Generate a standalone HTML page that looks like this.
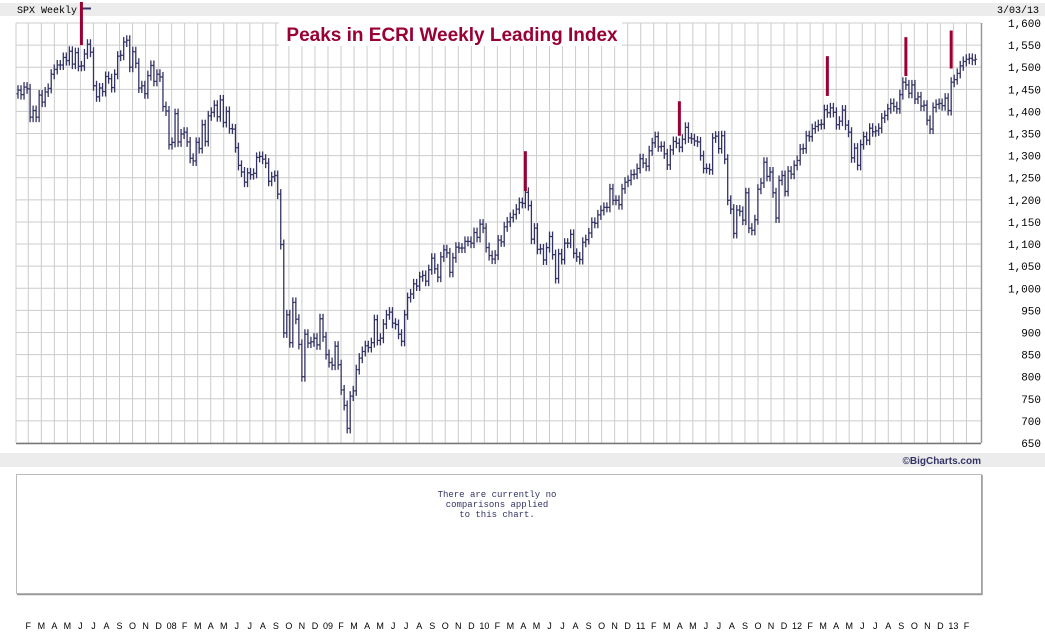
<!DOCTYPE html>
<html><head><meta charset="utf-8">
<style>
body{margin:0;background:#fff;width:1045px;height:635px;overflow:hidden;font-family:"Liberation Mono",monospace;}
svg{display:block}
</style></head>
<body>
<svg id="chart" width="1045" height="635" xmlns="http://www.w3.org/2000/svg">
<rect x="0" y="3" width="1045" height="13" fill="#ececec"/>
<text x="17" y="13" font-size="10" font-family="Liberation Mono, monospace" fill="#000">SPX Weekly</text>
<line x1="82" y1="8.5" x2="91" y2="8.5" stroke="#333366" stroke-width="2"/>
<text x="1039" y="13" font-size="10" text-anchor="end" font-family="Liberation Mono, monospace">3/03/13</text>
<g id="grid"></g>
<rect x="279" y="22" width="343" height="24" fill="#fff"/>
<text x="452" y="41" font-size="19" font-weight="bold" text-anchor="middle" fill="#990033" font-family="Liberation Sans, sans-serif">Peaks in ECRI Weekly Leading Index</text>
<g id="bars"></g>
<g id="markers"></g>
<g id="yaxis"></g>
<rect x="0" y="453" width="1045" height="14" fill="#ececec"/>
<text x="981" y="464" font-size="10" font-weight="bold" text-anchor="end" fill="#333366" font-family="Liberation Sans, sans-serif">©BigCharts.com</text>
<rect x="16.5" y="474.5" width="965" height="119" fill="#fff" stroke="#bbb"/>
<line x1="982" y1="475" x2="982" y2="595" stroke="#999" stroke-width="1.5"/>
<line x1="17" y1="594.5" x2="982" y2="594.5" stroke="#999" stroke-width="1.5"/>
<text font-size="9" fill="#333366" text-anchor="middle" font-family="Liberation Mono, monospace">
<tspan x="497" y="497">There are currently no</tspan><tspan x="497" y="507">comparisons applied</tspan><tspan x="497" y="517">to this chart.</tspan></text>
<g id="months"></g>
</svg>
<script>
const closes=[1448,1438,1455,1451,1387,1402,1387,1437,1421,1444,1452,1484,1495,1505,1505,1522,1515,1536,1507,1533,1502,1503,1530,1552,1534,1458,1433,1453,1445,1479,1474,1454,1484,1525,1527,1557,1561,1500,1535,1509,1453,1458,1440,1481,1504,1468,1484,1478,
1411,1401,1325,1330,1395,1331,1349,1353,1331,1294,1288,1330,1316,1370,1332,1390,1398,1414,1388,1426,1375,1400,1361,1360,1318,1278,1263,1240,1261,1257,1260,1296,1298,1292,1283,1242,1252,1255,1213,1099,899,940,877,968,930,873,800,896,876,879,887,872,
931,890,850,832,826,869,827,770,735,683,756,768,816,842,857,870,866,877,929,882,887,919,940,946,921,918,896,880,940,979,987,1010,1005,1026,1029,1016,1042,1068,1044,1025,1071,1087,1080,1036,1069,1093,1091,1091,1106,1106,1102,1126,1115,
1145,1136,1092,1074,1066,1075,1109,1105,1139,1150,1160,1167,1179,1194,1192,1217,1187,1111,1136,1088,1089,1064,1092,1117,1076,1022,1078,1065,1102,1102,1122,1079,1071,1065,1104,1110,1125,1149,1147,1166,1176,1183,1183,1225,1199,1199,1189,1225,1240,1244,1257,1258,
1271,1293,1283,1276,1311,1329,1343,1320,1321,1304,1279,1313,1332,1328,1319,1337,1364,1340,1338,1333,1331,1300,1271,1271,1268,1340,1344,1316,1345,1292,1199,1179,1124,1177,1174,1154,1216,1136,1131,1155,1224,1238,1285,1253,1263,1216,1159,1244,1255,1219,1265,1258,
1278,1289,1315,1316,1345,1343,1361,1366,1370,1371,1404,1397,1408,1398,1370,1378,1403,1369,1353,1295,1317,1278,1325,1343,1335,1362,1354,1356,1362,1385,1391,1406,1418,1411,1406,1438,1466,1460,1441,1460,1428,1433,1412,1414,1380,1360,1409,1416,1418,1413,1430,1402,
1466,1472,1486,1503,1513,1518,1520,1516,1518];
const firstOpen=1440;
const yTicks=[1600,1550,1500,1450,1400,1350,1300,1250,1200,1150,1100,1050,1000,950,900,850,800,750,700,650];
const monthLabels=["F","M","A","M","J","J","A","S","O","N","D","08","F","M","A","M","J","J","A","S","O","N","D","09","F","M","A","M","J","J","A","S","O","N","D","10","F","M","A","M","J","J","A","S","O","N","D","11","F","M","A","M","J","J","A","S","O","N","D","12","F","M","A","M","J","J","A","S","O","N","D","13","F"];
const peakWeeks=[21,168,219,268,294,309];
const peakLows=[1550,1220,1345,1435,1480,1497];
const peakHighs=[1650,1310,1423,1525,1568,1583];

const NS="http://www.w3.org/2000/svg";
const L=16,R=981,T=23,B=443,VMAX=1600,VMIN=650;
function yS(v){return T+(VMAX-v)*(B-T)/(VMAX-VMIN);}
function xW(i){return 18+i*3.02;}
function xM(m){return 28.3+m*13.03;}
function mk(tag,attrs,parent){const e=document.createElementNS(NS,tag);for(const k in attrs)e.setAttribute(k,attrs[k]);parent.appendChild(e);return e;}
const grid=document.getElementById('grid');
mk('rect',{x:L,y:T,width:R-L,height:B-T,fill:'#fff'},grid);
yTicks.forEach(v=>{const l=mk('line',{x1:L,x2:R,y1:yS(v),y2:yS(v),stroke:'#cccccc','stroke-width':1},grid);

});
monthLabels.forEach((m,k)=>{const x=xM(k);if(x<R){const l=mk('line',{x1:x,x2:x,y1:T,y2:B,stroke:'#cccccc','stroke-width':1},grid);

}});
mk('line',{x1:L,x2:R,y1:B+0.5,y2:B+0.5,stroke:'#777','stroke-width':1.5},grid);
mk('line',{x1:R+0.5,x2:R+0.5,y1:T,y2:B,stroke:'#999','stroke-width':1.5},grid);
mk('line',{x1:L,x2:L,y1:T,y2:B,stroke:'#cccccc','stroke-width':1},grid);

const yax=document.getElementById('yaxis');
yTicks.forEach(v=>{const t=mk('text',{x:1041,y:yS(v)+4,'font-size':11,'text-anchor':'end','font-family':'Liberation Mono, monospace'},yax);
t.textContent=v.toLocaleString('en-US');

});

const bars=document.getElementById('bars');
closes.forEach((c,i)=>{const o=i===0?firstOpen:closes[i-1];const x=xW(i);
const yh=yS(Math.max(o,c))-5,yl=yS(Math.min(o,c))+5;
const g=mk('g',{stroke:'#333366','stroke-width':1.3,fill:'none'},bars);


mk('line',{x1:x,x2:x,y1:yh,y2:yl},g);
mk('line',{x1:x-1.5,x2:x,y1:yS(o),y2:yS(o)},g);
mk('line',{x1:x,x2:x+1.5,y1:yS(c),y2:yS(c)},g);});

const mg=document.getElementById('markers');
peakWeeks.forEach((w,k)=>{const x=xW(w);
const l=mk('line',{x1:x,x2:x,y1:Math.max(2,yS(peakHighs[k])),y2:yS(peakLows[k]),stroke:'#990033','stroke-width':3},mg);

});

const mo=document.getElementById('months');
monthLabels.forEach((m,k)=>{const t=mk('text',{x:xM(k),y:629,'font-size':9,'text-anchor':'middle','font-family':'Liberation Sans, sans-serif'},mo);
t.textContent=m;

});
</script>
</body></html>
